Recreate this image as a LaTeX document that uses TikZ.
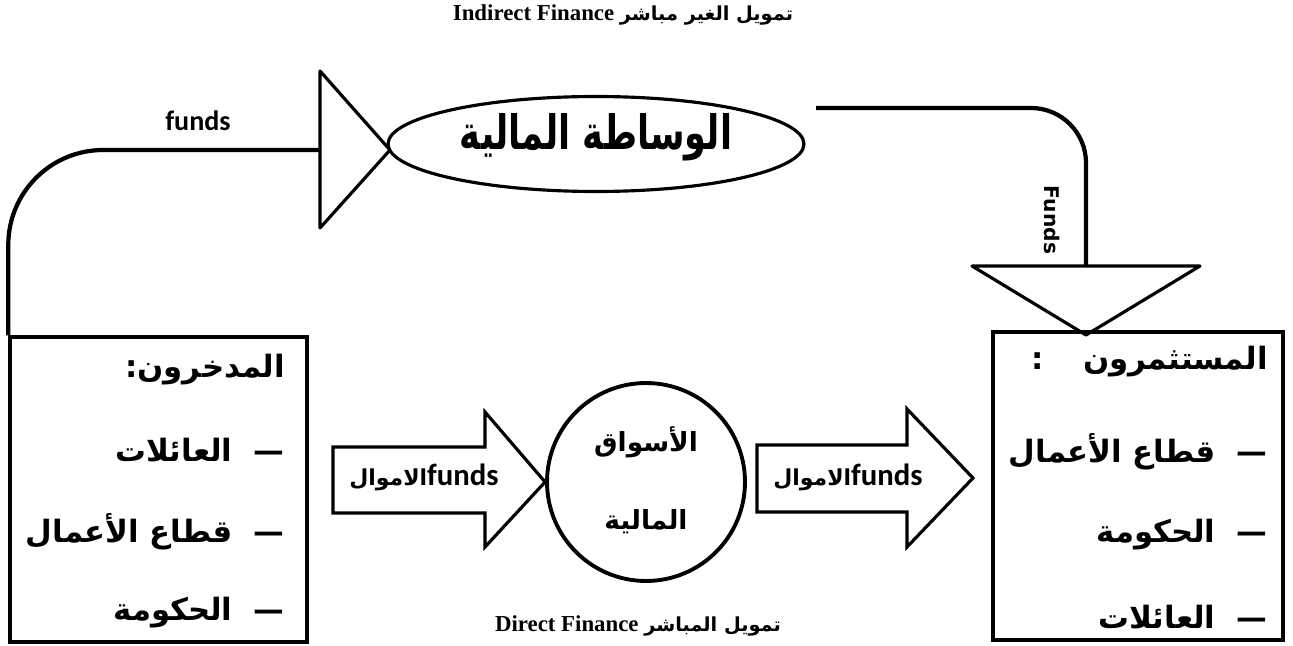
\documentclass[tikz,border=0pt]{standalone}
\usepackage{fontspec}
\setmainfont{Liberation Serif}
\newfontfamily\arabicfont[Script=Arabic]{DejaVu Sans}
\newfontfamily\labelfont{Carlito}
\newfontfamily\vertfont{DejaVu Sans}
\TeXXeTstate=1
\usetikzlibrary{shapes.geometric}

\tikzset{
  flow/.style={line width=2.4pt, line join=round},
  tri/.style={line width=1.8pt, line join=round},
  blockarrow/.style={line width=1.8pt, line join=miter},
  sectorbox/.style={draw, line width=2pt, rectangle, inner sep=0pt},
  itemtext/.style={anchor=east, font=\arabicfont\bfseries\fontsize{17.5}{20}\selectfont, inner sep=0pt},
  fundstext/.style={font=\labelfont\bfseries\fontsize{17.5}{20}\selectfont, inner sep=0pt},
}

\begin{document}
\begin{tikzpicture}[x=0.02cm, y=-0.02cm]
    \useasboundingbox (0,0) rectangle (1293,645);

    % headings
    \node[font=\bfseries\fontsize{13}{15}\selectfont, inner sep=0pt] (indirect) at (623,15)
        {Indirect Finance {\arabicfont\fontsize{11}{13}\selectfont\beginR تمويل الغير مباشر\endR}};
    \node[font=\bfseries\fontsize{13}{15}\selectfont, inner sep=0pt] (direct) at (638,626)
        {Direct Finance {\arabicfont\fontsize{11}{13}\selectfont\beginR تمويل المباشر\endR}};

    % savers
    \node[sectorbox, minimum width=5.94cm, minimum height=6.1cm] (savers) at (158.5,489.5) {};
    \node[itemtext] (s0) at (285,370) {:\beginR المدخرون\endR};
    \node[itemtext] (s1) at (285,450) {\beginR العائلات\endR\ \ —};
    \node[itemtext] (s2) at (285,532) {\beginR قطاع الأعمال\endR\ \ —};
    \node[itemtext] (s3) at (285,613) {\beginR الحكومة\endR\ \ —};

    % investors
    \node[sectorbox, minimum width=5.8cm, minimum height=6.16cm] (investors) at (1138,486) {};
    \node[itemtext] (i0) at (1268,362) {:\hspace{1.3em}\beginR المستثمرون\endR};
    \node[itemtext] (i1) at (1268,452) {\beginR قطاع الأعمال\endR\ \ —};
    \node[itemtext] (i2) at (1268,535) {\beginR الحكومة\endR\ \ —};
    \node[itemtext] (i3) at (1268,617) {\beginR العائلات\endR\ \ —};

    % intermediaries
    \node[draw, ellipse, line width=1.8pt, minimum width=8.32cm, minimum height=1.9cm, inner sep=0pt] (inter) at (596,144) {};
    \node[font=\arabicfont\bfseries\fontsize{20}{24}\selectfont, inner sep=0pt, yscale=1.35, transform shape] (intertext) at (596,137)
        {\beginR الوساطة المالية\endR};

    % markets
    \node[draw, circle, line width=2.2pt, minimum size=3.96cm] (market) at (646,482) {};
    \node[font=\arabicfont\bfseries\fontsize{15}{18}\selectfont] (m1) at (646,442) {\beginR الأسواق\endR};
    \node[font=\arabicfont\bfseries\fontsize{15}{18}\selectfont] (m2) at (646,522) {\beginR المالية\endR};

    % indirect route, savers to intermediaries
    \coordinate (t1a) at (320,71);
    \coordinate (t1b) at (320,228);
    \coordinate (t1c) at (390,150);
    \coordinate (t1in) at (320,150);
    \draw[flow, rounded corners=1.9cm] (savers.north west) |- (t1in);
    \draw[tri] (t1a) -- (t1c) -- (t1b) -- cycle;
    \node[fundstext, font=\labelfont\bfseries\fontsize{16}{18}\selectfont] (f1) at (198,121) {funds};

    % indirect route, intermediaries to investors
    \coordinate (out) at (816,108);
    \coordinate (t2a) at (972,266);
    \coordinate (t2b) at (1200,266);
    \coordinate (t2c) at (1086,335);
    \coordinate (t2in) at (1086,266);
    \draw[flow, rounded corners=1.1cm] (out) -| (t2in);
    \draw[tri] (t2a) -- (t2b) -- (t2c) -- cycle;
    \node[font=\vertfont\bfseries\fontsize{11.5}{13}\selectfont, rotate=-90, inner sep=0pt] (f2) at (1052,220) {Funds};

    % direct route
    \draw[blockarrow] (333,447) -- (485,447) -- (485,412) -- (market.west) -- (485,547) -- (485,513) -- (333,513) -- cycle;
    \node[fundstext] (a1) at (424,477) {{\arabicfont\fontsize{12.5}{15}\selectfont\beginR الاموال\endR}funds};
    \draw[blockarrow] (757,445) -- (907,445) -- (907,409) -- (973,478) -- (907,547) -- (907,512) -- (757,512) -- cycle;
    \node[fundstext] (a2) at (848,477) {{\arabicfont\fontsize{12.5}{15}\selectfont\beginR الاموال\endR}funds};
\end{tikzpicture}
\end{document}
